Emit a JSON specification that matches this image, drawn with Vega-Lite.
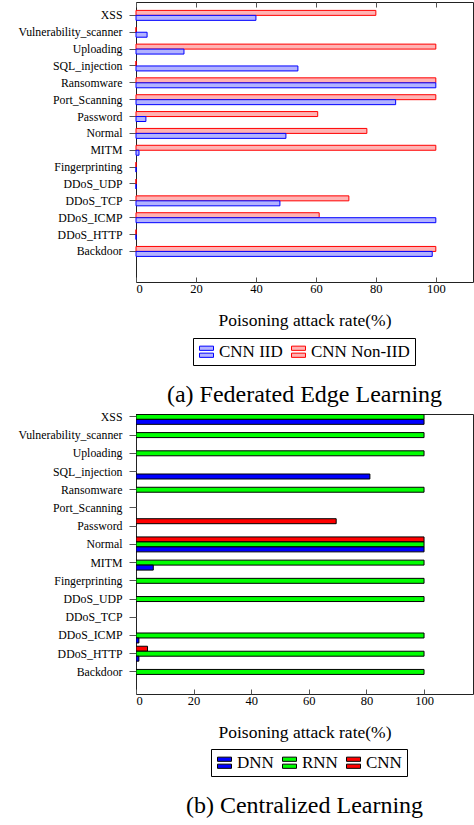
{
  "$schema": "https://vega.github.io/schema/vega-lite/v6.json",
  "padding": {"left": 17, "top": 1, "right": 0, "bottom": 0},
  "spacing": 3,
  "config": {
    "font": "Liberation Serif",
    "view": {"stroke": "#222", "strokeWidth": 1},
    "axis": {"grid": false, "domain": false, "labelFont": "Liberation Serif", "titleFont": "Liberation Serif", "labelColor": "#000", "titleColor": "#000", "tickColor": "#555", "titleFontWeight": "normal"},
    "legend": {"labelFont": "Liberation Serif", "labelFontSize": 17, "labelColor": "#000", "strokeColor": "#000", "padding": 5, "symbolType": "M-1,-0.8H1V-0.2H-1Z M-1,0.2H1V0.8H-1Z", "symbolSize": 196, "symbolStrokeWidth": 1, "labelOffset": 4, "columnPadding": 6},
    "title": {"font": "Liberation Serif", "fontSize": 24, "fontWeight": "normal", "color": "#000"}
  },
  "resolve": {
    "scale": {"x": "independent", "y": "independent", "yOffset": "independent", "fill": "independent", "stroke": "independent"},
    "legend": {"fill": "independent", "stroke": "independent"}
  },
  "datasets": {
    "fel": [
      {"attack": "XSS", "setting": "CNN Non-IID", "rate": 80},
      {"attack": "XSS", "setting": "CNN IID", "rate": 40},
      {"attack": "Vulnerability_scanner", "setting": "CNN Non-IID", "rate": 0},
      {"attack": "Vulnerability_scanner", "setting": "CNN IID", "rate": 3.7},
      {"attack": "Uploading", "setting": "CNN Non-IID", "rate": 100},
      {"attack": "Uploading", "setting": "CNN IID", "rate": 16},
      {"attack": "SQL_injection", "setting": "CNN Non-IID", "rate": 0},
      {"attack": "SQL_injection", "setting": "CNN IID", "rate": 54},
      {"attack": "Ransomware", "setting": "CNN Non-IID", "rate": 100},
      {"attack": "Ransomware", "setting": "CNN IID", "rate": 100},
      {"attack": "Port_Scanning", "setting": "CNN Non-IID", "rate": 100},
      {"attack": "Port_Scanning", "setting": "CNN IID", "rate": 86.6},
      {"attack": "Password", "setting": "CNN Non-IID", "rate": 60.6},
      {"attack": "Password", "setting": "CNN IID", "rate": 3.3},
      {"attack": "Normal", "setting": "CNN Non-IID", "rate": 77},
      {"attack": "Normal", "setting": "CNN IID", "rate": 50},
      {"attack": "MITM", "setting": "CNN Non-IID", "rate": 100},
      {"attack": "MITM", "setting": "CNN IID", "rate": 1},
      {"attack": "Fingerprinting", "setting": "CNN Non-IID", "rate": 0},
      {"attack": "Fingerprinting", "setting": "CNN IID", "rate": 0},
      {"attack": "DDoS_UDP", "setting": "CNN Non-IID", "rate": 0},
      {"attack": "DDoS_UDP", "setting": "CNN IID", "rate": 0},
      {"attack": "DDoS_TCP", "setting": "CNN Non-IID", "rate": 71},
      {"attack": "DDoS_TCP", "setting": "CNN IID", "rate": 48},
      {"attack": "DDoS_ICMP", "setting": "CNN Non-IID", "rate": 61.1},
      {"attack": "DDoS_ICMP", "setting": "CNN IID", "rate": 100},
      {"attack": "DDoS_HTTP", "setting": "CNN Non-IID", "rate": 0},
      {"attack": "DDoS_HTTP", "setting": "CNN IID", "rate": 0},
      {"attack": "Backdoor", "setting": "CNN Non-IID", "rate": 100},
      {"attack": "Backdoor", "setting": "CNN IID", "rate": 98.8}
    ],
    "cl": [
      {"attack": "XSS", "model": "RNN", "rate": 100},
      {"attack": "XSS", "model": "DNN", "rate": 100},
      {"attack": "Vulnerability_scanner", "model": "RNN", "rate": 100},
      {"attack": "Uploading", "model": "RNN", "rate": 100},
      {"attack": "SQL_injection", "model": "DNN", "rate": 81.2},
      {"attack": "Ransomware", "model": "RNN", "rate": 100},
      {"attack": "Password", "model": "CNN", "rate": 69.5},
      {"attack": "Normal", "model": "CNN", "rate": 100},
      {"attack": "Normal", "model": "RNN", "rate": 100},
      {"attack": "Normal", "model": "DNN", "rate": 100},
      {"attack": "MITM", "model": "RNN", "rate": 100},
      {"attack": "MITM", "model": "DNN", "rate": 6},
      {"attack": "Fingerprinting", "model": "RNN", "rate": 100},
      {"attack": "DDoS_UDP", "model": "RNN", "rate": 100},
      {"attack": "DDoS_ICMP", "model": "RNN", "rate": 100},
      {"attack": "DDoS_ICMP", "model": "DNN", "rate": 1},
      {"attack": "DDoS_HTTP", "model": "CNN", "rate": 4},
      {"attack": "DDoS_HTTP", "model": "RNN", "rate": 100},
      {"attack": "DDoS_HTTP", "model": "DNN", "rate": 1},
      {"attack": "Backdoor", "model": "RNN", "rate": 100}
    ]
  },
  "vconcat": [
    {
      "width": 337,
      "height": 280,
      "title": {"text": "(a) Federated Edge Learning", "orient": "bottom", "anchor": "middle", "offset": 17},
      "data": {"name": "fel"},
      "layer": [
        {
          "mark": {"type": "bar", "strokeWidth": 1},
          "encoding": {
            "y": {"field": "attack", "type": "nominal", "sort": null,
              "scale": {"domain": ["XSS", "Vulnerability_scanner", "Uploading", "SQL_injection", "Ransomware", "Port_Scanning", "Password", "Normal", "MITM", "Fingerprinting", "DDoS_UDP", "DDoS_TCP", "DDoS_ICMP", "DDoS_HTTP", "Backdoor"], "range": [8.4, 254.4], "paddingInner": 0.41, "paddingOuter": 0},
              "axis": {"title": null, "labelFontSize": 11.8, "tickSize": 7, "labelPadding": 7}},
            "yOffset": {"field": "setting", "type": "nominal", "scale": {"domain": ["CNN Non-IID", "CNN IID"], "paddingInner": 0, "paddingOuter": 0}},
            "x": {"field": "rate", "type": "quantitative", "scale": {"domain": [0, 112.4], "nice": false},
              "axis": {"values": [0, 20, 40, 60, 80, 100], "tickSize": -5, "labelPadding": 5, "labelFontSize": 12.5, "title": "Poisoning attack rate(%)", "titleFontSize": 17.5, "titlePadding": 17}},
            "fill": {"field": "setting", "type": "nominal", "scale": {"domain": ["CNN IID", "CNN Non-IID"], "range": ["#b3b3ff", "#ffb3b3"]},
              "legend": {"title": null, "orient": "none", "direction": "horizontal", "legendX": 57, "legendY": 336}},
            "stroke": {"field": "setting", "type": "nominal", "scale": {"domain": ["CNN IID", "CNN Non-IID"], "range": ["#0000ff", "#ff0000"]},
              "legend": {"title": null, "orient": "none", "direction": "horizontal", "legendX": 57, "legendY": 336}}
          }
        },
        {
          "mark": {"type": "tick", "opacity": 0},
          "encoding": {
            "x": {"field": "rate", "type": "quantitative", "scale": {"domain": [0, 112.4], "nice": false},
              "axis": {"orient": "top", "values": [0, 20, 40, 60, 80, 100], "tickSize": -5, "labels": false, "title": null}}
          }
        }
      ],
      "resolve": {"axis": {"x": "independent"}}
    },
    {
      "width": 337,
      "height": 280,
      "title": {"text": "(b) Centralized Learning", "orient": "bottom", "anchor": "middle", "offset": 17},
      "data": {"name": "cl"},
      "mark": {"type": "bar", "stroke": "#000", "strokeWidth": 1, "clip": true},
      "encoding": {
        "y": {"field": "attack", "type": "nominal", "sort": null,
          "scale": {"domain": ["XSS", "Vulnerability_scanner", "Uploading", "SQL_injection", "Ransomware", "Port_Scanning", "Password", "Normal", "MITM", "Fingerprinting", "DDoS_UDP", "DDoS_TCP", "DDoS_ICMP", "DDoS_HTTP", "Backdoor"], "range": [-4.6, 265.4], "paddingInner": 0.18, "paddingOuter": 0},
          "axis": {"title": null, "labelFontSize": 11.8, "tickSize": 7, "labelPadding": 7}},
        "yOffset": {"field": "model", "type": "nominal", "scale": {"domain": ["CNN", "RNN", "DNN"], "paddingInner": 0, "paddingOuter": 0}},
        "x": {"field": "rate", "type": "quantitative", "scale": {"domain": [0, 117], "nice": false},
          "axis": {"values": [0, 20, 40, 60, 80, 100], "tickSize": -5, "labelPadding": 5, "labelFontSize": 12.5, "title": "Poisoning attack rate(%)", "titleFontSize": 17.5, "titlePadding": 17}},
        "fill": {"field": "model", "type": "nominal", "scale": {"domain": ["DNN", "RNN", "CNN"], "range": ["#0000ff", "#00ff00", "#ff0000"]},
          "legend": {"title": null, "orient": "none", "direction": "horizontal", "legendX": 75, "legendY": 335, "symbolStrokeColor": "#000"}}
      }
    }
  ]
}
